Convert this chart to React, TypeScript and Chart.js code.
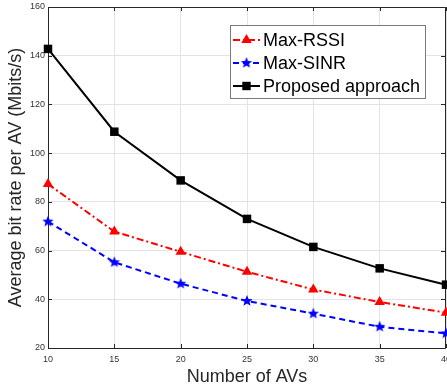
import React, { useEffect, useRef } from 'react';
import { Chart, registerables } from 'chart.js';

Chart.register(...registerables);

const avCounts = [10, 15, 20, 25, 30, 35, 40];
const maxRssi = [87.3, 67.8, 59.5, 51.3, 44.0, 38.9, 34.5];
const maxSinr = [71.9, 55.2, 46.4, 39.3, 34.1, 28.7, 26.0];
const proposed = [142.8, 108.8, 88.8, 73.0, 61.5, 52.7, 46.0];
const xTickValues = [10, 15, 20, 25, 30, 35, 40];
const yTickValues = [20, 40, 60, 80, 100, 120, 140, 160];
const seriesNames = ['Max-RSSI', 'Max-SINR', 'Proposed approach'];
const xTitle = 'Number of AVs';
const yTitle = 'Average bit rate per AV (Mbits/s)';

const FONT = '"Liberation Sans", Arial, sans-serif';
const AXIS_COLOR = '#262626';

function makeStar(color: string, outer: number, inner: number) {
  const size = Math.ceil(outer * 2 + 2);
  const c = document.createElement('canvas');
  c.width = size;
  c.height = size;
  const ctx = c.getContext('2d')!;
  ctx.beginPath();
  for (let i = 0; i < 10; i++) {
    const r = i % 2 ? inner : outer;
    const a = -Math.PI / 2 + (i * Math.PI) / 5;
    ctx.lineTo(size / 2 + r * Math.cos(a), size / 2 + r * Math.sin(a));
  }
  ctx.closePath();
  ctx.fillStyle = color;
  ctx.fill();
  return c;
}

function drawMarker(ctx: CanvasRenderingContext2D, kind: string, x: number, y: number, color: string, star?: HTMLCanvasElement) {
  ctx.save();
  ctx.fillStyle = color;
  ctx.setLineDash([]);
  if (kind === 'triangle') {
    const r = 6;
    ctx.beginPath();
    for (let i = 0; i < 3; i++) {
      const a = (i * 2 * Math.PI) / 3;
      ctx.lineTo(x + Math.sin(a) * r, y - Math.cos(a) * r);
    }
    ctx.closePath();
    ctx.fill();
  } else if (kind === 'rect') {
    const s = 4.2;
    ctx.fillRect(x - s, y - s, 2 * s, 2 * s);
  } else if (star) {
    ctx.drawImage(star, x - star.width / 2, y - star.height / 2);
  }
  ctx.restore();
}

export default function App() {
  const ref = useRef<HTMLCanvasElement>(null);

  useEffect(() => {
    const canvas = ref.current!;
    const star = makeStar('#0000ff', 6, 2.6);
    const markers = ['triangle', 'star', 'rect'];
    const colors = ['#ff0000', '#0000ff', '#000000'];
    const dashes = [[7, 3, 2, 3], [6, 4], []];

    const framePlugin = {
      id: 'frame',
      beforeDatasetsDraw(chart: any) {
        const { ctx, chartArea: a, scales } = chart;
        ctx.save();
        ctx.strokeStyle = AXIS_COLOR;
        ctx.lineWidth = 1;
        ctx.beginPath();
        ctx.rect(Math.round(a.left) + 0.5, Math.round(a.top) + 0.5, Math.round(a.right - a.left) - 1, Math.round(a.bottom - a.top));
        const tl = 4;
        for (const v of xTickValues) {
          const px = Math.round(scales.x.getPixelForValue(v)) + 0.5;
          ctx.moveTo(px, a.bottom);
          ctx.lineTo(px, a.bottom - tl);
          ctx.moveTo(px, a.top);
          ctx.lineTo(px, a.top + tl);
        }
        for (const v of yTickValues) {
          const py = Math.round(scales.y.getPixelForValue(v)) + 0.5;
          ctx.moveTo(a.left, py);
          ctx.lineTo(a.left + tl, py);
          ctx.moveTo(a.right - 1, py);
          ctx.lineTo(a.right - 1 - tl, py);
        }
        ctx.stroke();
        ctx.restore();
      },
      afterDraw(chart: any) {
        const { ctx, chartArea: a } = chart;
        ctx.save();
        ctx.fillStyle = AXIS_COLOR;
        ctx.font = `18px ${FONT}`;
        ctx.textAlign = 'center';
        ctx.textBaseline = 'alphabetic';
        ctx.fillText(xTitle, (a.left + a.right) / 2, 382);
        ctx.save();
        ctx.translate(21, (a.top + a.bottom) / 2);
        ctx.rotate(-Math.PI / 2);
        ctx.fillText(yTitle, 0, 0);
        ctx.restore();

        const bx = 230.5, by = 25.5, bw = 195, bh = 73;
        ctx.fillStyle = '#ffffff';
        ctx.fillRect(bx, by, bw, bh);
        ctx.strokeStyle = '#7a7a7a';
        ctx.lineWidth = 1;
        ctx.strokeRect(bx, by, bw, bh);
        const rows = [40, 63, 86];
        ctx.font = `18px ${FONT}`;
        ctx.textAlign = 'left';
        ctx.textBaseline = 'middle';
        for (let i = 0; i < 3; i++) {
          const y = rows[i];
          ctx.save();
          ctx.strokeStyle = colors[i];
          ctx.lineWidth = 2;
          ctx.setLineDash(dashes[i]);
          ctx.beginPath();
          ctx.moveTo(233, y);
          ctx.lineTo(260, y);
          ctx.stroke();
          ctx.restore();
          drawMarker(ctx, markers[i], 246.5, y, colors[i], star);
          ctx.fillStyle = '#000000';
          ctx.fillText(seriesNames[i], 263, y + 1);
        }
        ctx.restore();
      },
    };

    const chart = new Chart(canvas, {
      type: 'line',
      data: {
        labels: avCounts,
        datasets: [
          {
            label: seriesNames[0],
            data: avCounts.map((x, i) => ({ x, y: maxRssi[i] })),
            borderColor: colors[0],
            backgroundColor: colors[0],
            borderWidth: 2,
            borderDash: dashes[0],
            pointStyle: 'triangle',
            pointRadius: 6,
            pointBorderWidth: 0,
            pointBackgroundColor: colors[0],
            clip: false,
          },
          {
            label: seriesNames[1],
            data: avCounts.map((x, i) => ({ x, y: maxSinr[i] })),
            borderColor: colors[1],
            backgroundColor: colors[1],
            borderWidth: 2,
            borderDash: dashes[1],
            pointStyle: star as any,
            pointRadius: 6,
            pointBorderWidth: 0,
            clip: false,
          },
          {
            label: seriesNames[2],
            data: avCounts.map((x, i) => ({ x, y: proposed[i] })),
            borderColor: colors[2],
            backgroundColor: colors[2],
            borderWidth: 2,
            pointStyle: 'rect',
            pointRadius: 6,
            pointBorderWidth: 0,
            pointBackgroundColor: colors[2],
            clip: false,
          },
        ] as any,
      },
      options: {
        animation: false,
        responsive: false,
        devicePixelRatio: 1,
        layout: { autoPadding: false, padding: { top: 7, right: 1, left: 0, bottom: 0 } },
        plugins: { legend: { display: false }, tooltip: { enabled: false } },
        scales: {
          x: {
            type: 'linear',
            min: 10,
            max: 40,
            afterFit: (s: any) => { s.height = 42; s.paddingLeft = 0; s.paddingRight = 0; },
            afterBuildTicks: (s: any) => { s.ticks = xTickValues.map((v) => ({ value: v })); },
            grid: { color: '#e3e3e3', drawTicks: false },
            border: { display: false },
            ticks: { font: { family: FONT, size: 9 }, color: '#333333', padding: 6, maxRotation: 0 },
          },
          y: {
            type: 'linear',
            min: 20,
            max: 160,
            afterFit: (s: any) => { s.width = 48; s.paddingTop = 0; s.paddingBottom = 0; },
            afterBuildTicks: (s: any) => { s.ticks = yTickValues.map((v) => ({ value: v })); },
            grid: { color: '#e3e3e3', drawTicks: false },
            border: { display: false },
            ticks: { font: { family: FONT, size: 9 }, color: '#333333', padding: 3 },
          },
        },
      },
      plugins: [framePlugin],
    } as any);
    return () => chart.destroy();
  }, []);

  return (
    <div style={{ position: 'fixed', left: 0, top: 0, width: 447, height: 390, background: '#fff' }}>
      <canvas ref={ref} width={447} height={390} style={{ display: 'block', width: 447, height: 390 }} />
    </div>
  );
}
